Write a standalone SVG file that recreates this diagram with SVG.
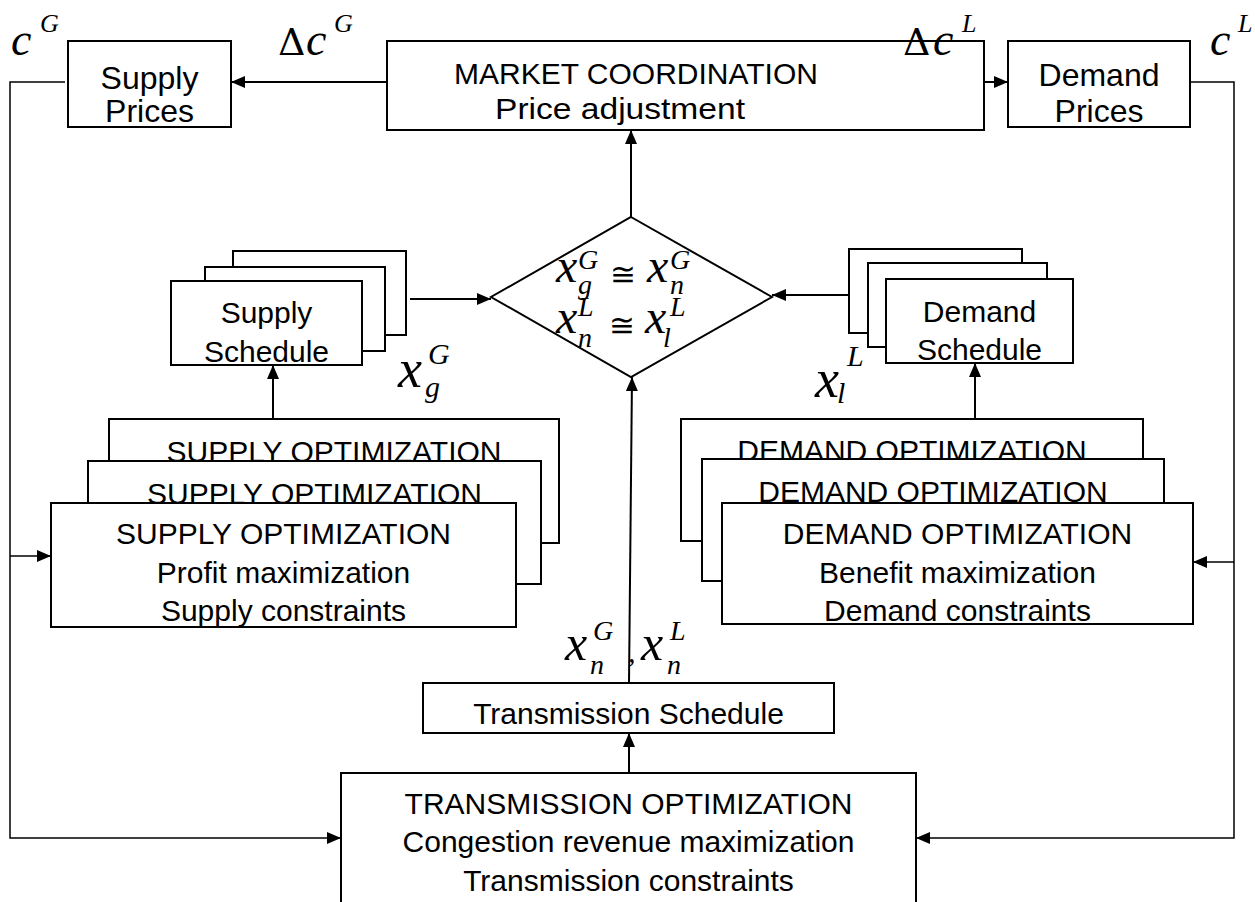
<svg xmlns="http://www.w3.org/2000/svg" width="1255" height="902" viewBox="0 0 1255 902">
  <defs>
    <marker id="arr" viewBox="0 0 14 12" refX="14" refY="6" markerWidth="14" markerHeight="12" markerUnits="userSpaceOnUse" orient="auto">
      <path d="M0,0 L14,6 L0,12 Z" fill="#000"/>
    </marker>
    <style>
      .box { fill: #fff; stroke: #000; stroke-width: 2; }
      .lbl { font-family: "Liberation Sans", Arial, sans-serif; font-size: 30px; fill: #000; text-anchor: middle; }
      .small { font-size: 32px; }
      .math { font-family: "Liberation Serif", "DejaVu Serif", serif; font-style: italic; fill: #000; }
      .sym { font-family: "DejaVu Serif", "Liberation Serif", serif; fill: #000; }
      .big { font-size: 48px; }
      .sub { font-size: 28px; }
      .wire { fill: none; stroke: #000; stroke-width: 2; }
      .feed { fill: none; stroke: #000; stroke-width: 1.5; }
    </style>
  </defs>

  <rect width="1255" height="902" fill="#fff"/>

  <!-- connectors -->
  <g id="connectors">
    <line class="wire" x1="387" y1="82" x2="231" y2="82" marker-end="url(#arr)"/>
    <line class="wire" x1="984" y1="82" x2="1008" y2="82" marker-end="url(#arr)"/>
    <line class="wire" x1="631" y1="217" x2="631" y2="130" marker-end="url(#arr)"/>
    <line class="wire" x1="410" y1="299" x2="491" y2="299" marker-end="url(#arr)"/>
    <line class="wire" x1="849" y1="295" x2="772" y2="295" marker-end="url(#arr)"/>
    <line class="wire" x1="273" y1="419" x2="273" y2="365" marker-end="url(#arr)"/>
    <line class="wire" x1="975" y1="419" x2="975" y2="363" marker-end="url(#arr)"/>
    <line class="wire" x1="629" y1="683" x2="632" y2="377" marker-end="url(#arr)"/>
    <line class="wire" x1="629" y1="773" x2="629" y2="733" marker-end="url(#arr)"/>
    <!-- supply price feedback -->
    <polyline class="feed" points="65,82 10,82 10,838 341,838" marker-end="url(#arr)"/>
    <line class="feed" x1="10" y1="556" x2="51" y2="556" marker-end="url(#arr)"/>
    <!-- demand price feedback -->
    <polyline class="feed" points="1187,82 1234,82 1234,838 916,838" marker-end="url(#arr)"/>
    <line class="feed" x1="1234" y1="562" x2="1193" y2="562" marker-end="url(#arr)"/>
  </g>

  <g id="supply-prices">
    <rect class="box" x="68" y="41" width="163" height="86"/>
    <text class="lbl small" x="149.5" y="89">Supply</text>
    <text class="lbl small" x="149.5" y="122">Prices</text>
  </g>

  <g id="market-coordination">
    <rect class="box" x="387" y="41" width="597" height="89"/>
    <text class="lbl" x="636" y="84">MARKET COORDINATION</text>
    <text class="lbl" x="620" y="119" textLength="250" lengthAdjust="spacingAndGlyphs">Price adjustment</text>
  </g>

  <g id="demand-prices">
    <rect class="box" x="1008" y="41" width="182" height="86"/>
    <text class="lbl small" x="1099" y="86">Demand</text>
    <text class="lbl small" x="1099" y="122">Prices</text>
  </g>

  <g id="price-labels">
    <text class="math" x="11" y="55" font-size="46">c</text>
    <text class="math" x="40" y="32" font-size="26">G</text>
    <text class="sym" x="278" y="55" font-size="38">Δ</text>
    <text class="math" x="306" y="55" font-size="46">c</text>
    <text class="math" x="334" y="32" font-size="26">G</text>
    <text class="sym" x="903" y="55" font-size="38">Δ</text>
    <text class="math" x="933" y="55" font-size="46">c</text>
    <text class="math" x="962" y="32" font-size="26">L</text>
    <text class="math" x="1210" y="55" font-size="46">c</text>
    <text class="math" x="1238" y="32" font-size="26">L</text>
  </g>

  <g id="balance-check">
    <polygon points="631,217 772,297 631,377 491,297" fill="#fff" stroke="#000" stroke-width="2"/>
    <text class="math big" x="556" y="282">x</text>
    <text class="math sub" x="578" y="269">G</text>
    <text class="math sub" x="578" y="294">g</text>
    <text class="sym" x="610" y="285" font-size="31">≅</text>
    <text class="math big" x="647" y="282">x</text>
    <text class="math sub" x="670" y="269">G</text>
    <text class="math sub" x="670" y="294">n</text>
    <text class="math big" x="556" y="333">x</text>
    <text class="math sub" x="578" y="316">L</text>
    <text class="math sub" x="578" y="347">n</text>
    <text class="sym" x="609" y="336" font-size="31">≅</text>
    <text class="math big" x="645" y="333">x</text>
    <text class="math sub" x="670" y="316">L</text>
    <text class="math sub" x="663" y="347">l</text>
  </g>

  <g id="supply-schedule">
    <rect class="box" x="233" y="251" width="173" height="84"/>
    <rect class="box" x="205" y="267" width="180" height="84"/>
    <rect class="box" x="171" y="281" width="191" height="84"/>
    <text class="lbl" x="266.5" y="323">Supply</text>
    <text class="lbl" x="266.5" y="362">Schedule</text>
  </g>

  <g id="supply-schedule-label">
    <text class="math" x="398" y="387" font-size="54">x</text>
    <text class="math" x="428" y="364" font-size="30">G</text>
    <text class="math" x="425" y="397" font-size="30">g</text>
  </g>

  <g id="demand-schedule">
    <rect class="box" x="849" y="249" width="173" height="84"/>
    <rect class="box" x="868" y="263" width="179" height="84"/>
    <rect class="box" x="886" y="279" width="187" height="84"/>
    <text class="lbl" x="979.5" y="322">Demand</text>
    <text class="lbl" x="979.5" y="360">Schedule</text>
  </g>

  <g id="demand-schedule-label">
    <text class="math" x="815" y="397" font-size="54">x</text>
    <text class="math" x="847" y="366" font-size="30">L</text>
    <text class="math" x="837" y="403" font-size="30">l</text>
  </g>

  <g id="supply-optimization">
    <rect class="box" x="109" y="419" width="450" height="124"/>
    <text class="lbl" x="334" y="462">SUPPLY OPTIMIZATION</text>
    <rect class="box" x="88" y="461" width="453" height="123"/>
    <text class="lbl" x="314.5" y="504">SUPPLY OPTIMIZATION</text>
    <rect class="box" x="51" y="503" width="465" height="124"/>
    <text class="lbl" x="283.5" y="544">SUPPLY OPTIMIZATION</text>
    <text class="lbl" x="283.5" y="583">Profit maximization</text>
    <text class="lbl" x="283.5" y="621">Supply constraints</text>
  </g>

  <g id="demand-optimization">
    <rect class="box" x="681" y="419" width="462" height="122"/>
    <text class="lbl" x="912" y="461">DEMAND OPTIMIZATION</text>
    <rect class="box" x="702" y="459" width="462" height="122"/>
    <text class="lbl" x="933" y="502">DEMAND OPTIMIZATION</text>
    <rect class="box" x="722" y="503" width="471" height="121"/>
    <text class="lbl" x="957.5" y="544">DEMAND OPTIMIZATION</text>
    <text class="lbl" x="957.5" y="583">Benefit maximization</text>
    <text class="lbl" x="957.5" y="621">Demand constraints</text>
  </g>

  <g id="transmission-label">
    <text class="math" x="565" y="660" font-size="50">x</text>
    <text class="math" x="593" y="640" font-size="28">G</text>
    <text class="math" x="590" y="674" font-size="28">n</text>
    <text class="math" x="628" y="662" font-size="30">,</text>
    <text class="math" x="641" y="660" font-size="50">x</text>
    <text class="math" x="670" y="640" font-size="28">L</text>
    <text class="math" x="667" y="674" font-size="28">n</text>
  </g>

  <g id="transmission-schedule">
    <rect class="box" x="423" y="683" width="411" height="50"/>
    <text class="lbl" x="628.5" y="724">Transmission Schedule</text>
  </g>

  <g id="transmission-optimization">
    <rect class="box" x="341" y="773" width="575" height="140"/>
    <text class="lbl" x="628.5" y="814">TRANSMISSION OPTIMIZATION</text>
    <text class="lbl" x="628.5" y="852">Congestion revenue maximization</text>
    <text class="lbl" x="628.5" y="891">Transmission constraints</text>
  </g>
</svg>
